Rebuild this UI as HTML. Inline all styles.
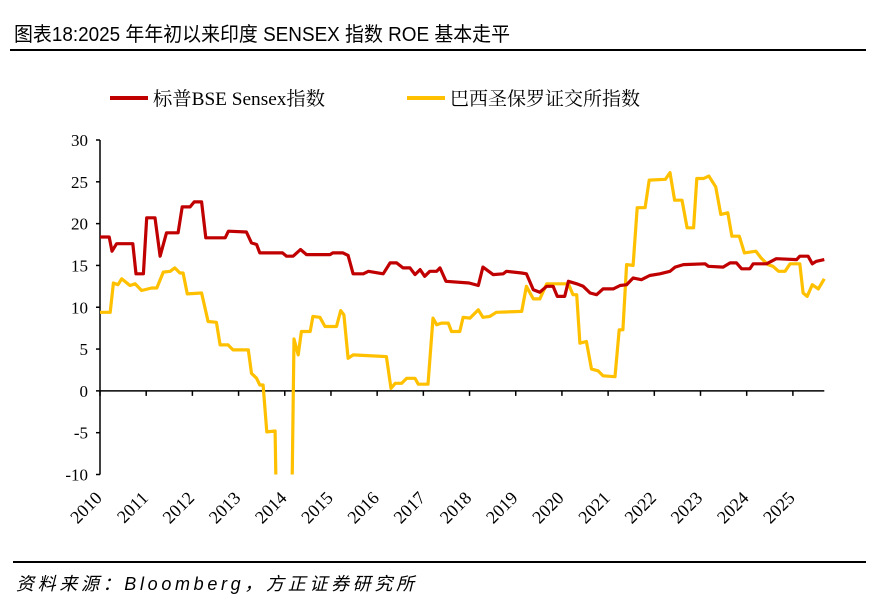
<!DOCTYPE html>
<html><head><meta charset="utf-8"><style>
body{margin:0;background:#fff;width:876px;height:609px;overflow:hidden;}
svg{display:block}
</style></head><body>
<svg id="chart" width="876" height="609" xmlns="http://www.w3.org/2000/svg">
<text x="14" y="41" font-family="'Liberation Sans','Noto Sans CJK SC',sans-serif" font-size="20" textLength="496" lengthAdjust="spacingAndGlyphs" fill="#000">图表18:2025 年年初以来印度 SENSEX 指数 ROE 基本走平</text>
<line x1="10" y1="50" x2="866" y2="50" stroke="#000" stroke-width="2"/>
<g font-family="'Liberation Serif','Noto Serif CJK SC',serif" font-size="19" fill="#000">
<g><line x1="110" y1="98" x2="148" y2="98" stroke="#C00000" stroke-width="4"/><text x="153" y="105" textLength="172" lengthAdjust="spacingAndGlyphs">标普BSE Sensex指数</text></g>
<g><line x1="407" y1="98" x2="445" y2="98" stroke="#FFC000" stroke-width="4"/><text x="450" y="105">巴西圣保罗证交所指数</text></g>
</g>
<g id="plot"></g>
<line x1="13" y1="562" x2="866" y2="562" stroke="#000" stroke-width="2"/>
<text x="16" y="590" font-family="'Liberation Sans','Noto Sans CJK SC',sans-serif" font-size="18" font-style="italic" textLength="398" lengthAdjust="spacing" fill="#000">资料来源：Bloomberg，方正证券研究所</text>
</svg>
<script>
const yTicks=[30,25,20,15,10,5,0,-5,-10];
const years=[2010,2011,2012,2013,2014,2015,2016,2017,2018,2019,2020,2021,2022,2023,2024,2025];
const sensexDates=[2010.00,2010.20,2010.26,2010.36,2010.71,2010.78,2010.94,2011.01,2011.19,2011.30,2011.44,2011.69,2011.78,2011.95,2012.04,2012.20,2012.29,2012.71,2012.78,2013.17,2013.28,2013.39,2013.46,2013.95,2014.04,2014.18,2014.34,2014.47,2014.98,2015.04,2015.26,2015.37,2015.48,2015.70,2015.81,2016.13,2016.28,2016.42,2016.56,2016.71,2016.82,2016.93,2017.03,2017.14,2017.29,2017.36,2017.49,2017.99,2018.19,2018.29,2018.51,2018.73,2018.80,2019.13,2019.23,2019.38,2019.52,2019.67,2019.81,2019.90,2020.06,2020.14,2020.32,2020.46,2020.61,2020.75,2020.89,2021.11,2021.26,2021.40,2021.54,2021.72,2021.90,2022.12,2022.34,2022.45,2022.63,2023.10,2023.17,2023.49,2023.64,2023.78,2023.89,2024.07,2024.14,2024.43,2024.64,2025.08,2025.15,2025.33,2025.42,2025.51,2025.68];
const sensexValues=[18.4,18.4,16.7,17.6,17.6,14.0,14.0,20.7,20.7,16.1,18.9,18.9,22.0,22.0,22.6,22.6,18.3,18.3,19.1,19.0,17.7,17.5,16.5,16.5,16.1,16.1,16.9,16.3,16.3,16.5,16.5,16.2,14.0,14.0,14.3,14.0,15.3,15.3,14.7,14.7,13.9,14.5,13.7,14.3,14.3,14.7,13.1,12.9,12.6,14.8,13.9,14.0,14.3,14.1,14.0,12.1,11.8,12.5,12.5,11.3,11.3,13.1,12.8,12.5,11.7,11.5,12.2,12.2,12.6,12.7,13.5,13.3,13.8,14.0,14.3,14.8,15.1,15.2,14.9,14.8,15.3,15.3,14.6,14.6,15.2,15.2,15.8,15.7,16.1,16.1,15.2,15.5,15.7];
const bovespaDates=[2010.00,2010.22,2010.29,2010.39,2010.47,2010.65,2010.76,2010.90,2011.12,2011.23,2011.37,2011.52,2011.62,2011.73,2011.80,2011.89,2012.20,2012.34,2012.52,2012.60,2012.77,2012.88,2013.21,2013.28,2013.39,2013.46,2013.53,2013.61,2013.79,2013.82,2014.15,2014.20,2014.29,2014.36,2014.55,2014.61,2014.76,2014.87,2015.12,2015.21,2015.28,2015.37,2015.48,2016.20,2016.30,2016.39,2016.53,2016.64,2016.82,2016.89,2017.10,2017.21,2017.29,2017.39,2017.54,2017.61,2017.79,2017.86,2018.01,2018.19,2018.29,2018.44,2018.58,2019.13,2019.23,2019.38,2019.52,2019.67,2020.14,2020.24,2020.32,2020.39,2020.53,2020.64,2020.78,2020.89,2021.15,2021.24,2021.32,2021.40,2021.54,2021.63,2021.80,2021.89,2022.24,2022.34,2022.44,2022.60,2022.71,2022.85,2022.92,2023.07,2023.18,2023.33,2023.44,2023.59,2023.68,2023.84,2023.95,2024.20,2024.31,2024.46,2024.57,2024.69,2024.83,2024.94,2025.15,2025.22,2025.31,2025.42,2025.55,2025.68];
const bovespaValues=[9.4,9.4,12.9,12.7,13.4,12.6,12.8,12.0,12.3,12.3,14.2,14.3,14.7,14.1,14.1,11.6,11.7,8.3,8.2,5.5,5.5,4.9,4.9,2.1,1.5,0.7,0.7,-4.9,-4.8,-15,-15,6.2,4.3,7.1,7.1,8.9,8.8,7.7,7.7,9.6,9.1,3.9,4.3,4.1,0.3,0.9,0.9,1.5,1.5,0.8,0.8,8.7,7.9,8.1,8.1,7.1,7.1,8.8,8.7,9.7,8.8,8.9,9.4,9.5,12.5,11.0,11.0,12.8,12.8,11.5,11.5,5.7,5.9,2.6,2.4,1.8,1.7,7.3,7.3,15.1,15.0,21.9,21.9,25.2,25.3,26.1,22.8,22.8,19.5,19.5,25.4,25.4,25.7,24.4,21.1,21.3,18.5,18.5,16.5,16.7,15.9,15.1,14.9,14.3,14.3,15.2,15.2,11.7,11.3,12.7,12.2,13.4];

const NS='http://www.w3.org/2000/svg';
const X0=100,X1=824.3,T0=2010,T1=2025.68,Y30=140,Ym10=474.5;
const xs=t=>X0+(t-T0)/(T1-T0)*(X1-X0);
const ys=v=>Y30+(30-v)/40*(Ym10-Y30);
const plot=document.getElementById('plot');
function mk(tag,attrs,parent){const e=document.createElementNS(NS,tag);for(const k in attrs)e.setAttribute(k,attrs[k]);(parent||plot).appendChild(e);return e;}
const defs=mk('defs',{});
const cp=mk('clipPath',{id:'clip'},defs);
mk('rect',{x:X0,y:Y30-5,width:X1-X0+5,height:Ym10-Y30+5},cp);
const yAxis=mk('g',{});


mk('line',{x1:X0,y1:Y30,x2:X0,y2:Ym10,stroke:'#000','stroke-width':1.5},yAxis);
yTicks.forEach(v=>{
  const y=ys(v);
  const tk=mk('line',{x1:X0-4,y1:y,x2:X0,y2:y,stroke:'#000','stroke-width':1.5},yAxis);
  
  
  const t=mk('text',{x:X0-12,y:y+6,'text-anchor':'end','font-family':"'Liberation Serif',serif",'font-size':17,fill:'#000'},yAxis);
  
  
  t.textContent=v;
});
const xAxis=mk('g',{});


mk('line',{x1:X0,y1:ys(0),x2:X1,y2:ys(0),stroke:'#000','stroke-width':1.5},xAxis);
years.forEach(yr=>{
  const x=xs(yr);
  const tk=mk('line',{x1:x,y1:ys(0),x2:x,y2:ys(0)+5,stroke:'#000','stroke-width':1.5},xAxis);
  
  
  const t=mk('text',{x:x+3,y:499,'text-anchor':'end','font-family':"'Liberation Serif',serif",'font-size':18,fill:'#000',transform:`rotate(-45 ${x+3} 499)`},xAxis);
  
  
  t.textContent=yr;
});
function line(dates,vals,color,name){
  const d=dates.map((t,i)=>(i?'L':'M')+xs(t).toFixed(1)+' '+ys(vals[i]).toFixed(1)).join('');
  const p=mk('path',{d:d,fill:'none',stroke:color,'stroke-width':3.2,'stroke-linejoin':'round','clip-path':'url(#clip)'});
  
  
}
line(bovespaDates,bovespaValues,'#FFC000','bovespa-roe-line');
line(sensexDates,sensexValues,'#C00000','sensex-roe-line');
</script>
</body></html>
